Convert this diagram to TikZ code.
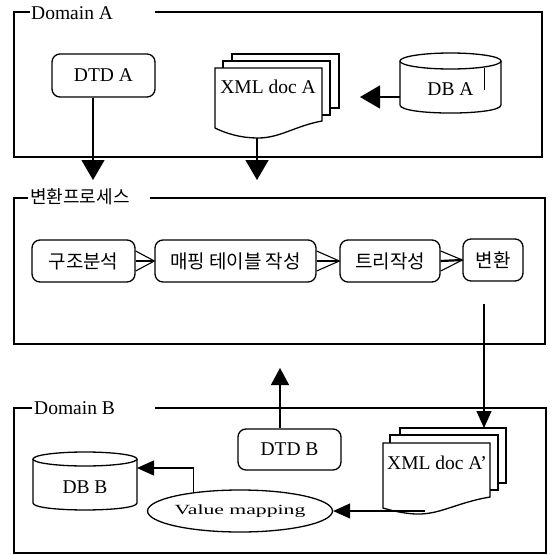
\documentclass[tikz,border=0pt]{standalone}
\usepackage{fontspec}
\setmainfont{Liberation Serif}
\newfontfamily\kr{Noto Sans CJK KR}
\usetikzlibrary{arrows.meta,calc,shapes.geometric}

\begin{document}
\begin{tikzpicture}[x=1pt,y=-1pt,
  frame/.style={line width=1.6pt},
  outline/.style={line width=1.3pt},
  rbox/.style={draw, line width=1.3pt, rounded corners=8pt, inner sep=0pt, align=center},
  big/.style={-{Triangle[length=20pt,width=23pt]}, line width=1.5pt},
  mid/.style={-{Triangle[length=17pt,width=18pt]}, line width=1.4pt},
  small/.style={-{Triangle[length=17pt,width=15pt]}, line width=1.2pt},
  lat/.style={font=\fontsize{19.5}{22}\selectfont},
  kor/.style={font=\kr\fontsize{19}{21}\selectfont},
  plain/.style={inner sep=0pt},
]
\useasboundingbox (0,0) rectangle (554,555);

% ---------------- Domain A ----------------
\draw[frame] (155,12) -- (542,12) -- (542,157) -- (14,157) -- (14,12) -- (30,12);
\node[lat, plain, anchor=west] (labA) at (31,13) {Domain A};

\node[rbox, lat, minimum width=103pt, minimum height=43pt] (dtda) at (103.5,75.5) {DTD A};

% stacked XML documents
\draw[outline, fill=white] (232,54) rectangle (339,108);
\draw[outline, fill=white] (223,61) rectangle (330,115);
\draw[outline, fill=white] (215,68) -- (322,68) -- (322,121)
  .. controls (295,126) and (280,138) .. (258,138)
  .. controls (240,138) and (225,133) .. (215,128) -- cycle;
\node[lat, plain] (xmla) at (268,87) {XML doc A};
\coordinate (xmlabot) at (257,138);
\coordinate (xmlaR) at (360,97);

% database A
\draw[outline] (450.5,61) ellipse[x radius=50.5pt, y radius=8pt];
\draw[outline] (400,61) -- (400,105) .. controls (400,115.7) and (501,115.7) .. (501,105) -- (501,61);
\draw[line width=1pt] (484,68) -- (484,90);
\node[lat, plain, minimum width=101pt, minimum height=48pt] (dba) at (450.5,89) {DB A};

\draw[big] (dba.west |- xmlaR) -- (xmlaR);

\coordinate (dtdatip) at (93,180);
\coordinate (xmlatip) at (257,180);
\draw[big] (dtda.south -| dtdatip) -- (dtdatip);
\draw[big] (xmlabot) -- (xmlatip);

% ---------------- transformation process ----------------
\draw[frame] (150,198) -- (545,198) -- (545,344) -- (14,344) -- (14,198) -- (28,198);
\node[plain, anchor=west, font=\kr\fontsize{18}{20}\selectfont] (labP) at (30,197) {변환프로세스};

\node[rbox, kor, minimum width=103pt, minimum height=42pt] (s1) at (83.5,261) {구조분석};
\node[rbox, kor, minimum width=161pt, minimum height=42pt] (s2) at (235.5,261) {매핑 테이블 작성};
\node[rbox, kor, minimum width=100pt, minimum height=42pt] (s3) at (390,261) {트리작성};
\node[rbox, kor, minimum width=60pt, minimum height=42pt] (s4) at (493,260) {변환};

\foreach \a/\b in {s1/s2,s2/s3,s3/s4}{
  \draw[line width=2.2pt] (\a.east) -- (\b.west);
  \draw[line width=1.1pt] ($(\a.east)+(0,-10)$) -- (\b.west) -- ($(\a.east)+(0,10)$);
}

% ---------------- Domain B ----------------
\draw[frame] (155,408) -- (546,408) -- (546,553) -- (14,553) -- (14,408) -- (32,408);
\node[lat, plain, anchor=west] (labB) at (34,408) {Domain B};

\node[rbox, lat, minimum width=103pt, minimum height=41pt] (dtdb) at (289.5,449.5) {DTD B};
\coordinate (dtdbtip) at (280,368);
\draw[mid] (dtdb.north -| dtdbtip) -- (dtdbtip);

% stacked transformed documents
\draw[outline, fill=white] (400,428) rectangle (506,483);
\draw[outline, fill=white] (390,435) rectangle (498,490);
\draw[outline, fill=white] (383,443) -- (490,443) -- (490,497)
  .. controls (455,503) and (440,515) .. (415,514)
  .. controls (400,513) and (390,510) .. (383,508) -- cycle;
\node[lat, plain] (xmlb) at (437,463) {XML doc A’};
\coordinate (xmlbtop) at (484,428);
\coordinate (xmlbbot) at (425,511);

\draw[small, shorten <=22pt] (s4.south -| xmlbtop) -- (xmlbtop);

% value mapping
\node[draw, ellipse, line width=1.3pt, plain, minimum width=165pt, minimum height=42pt,
      font=\fontsize{14}{16}\selectfont] (vm) at (240,511) {\scalebox{1.55}[1]{Value mapping}};
\draw[small] (xmlbbot) -- (vm.east);

% database B
\draw[outline] (85,459) ellipse[x radius=52pt, y radius=7pt];
\draw[outline] (33,459) -- (33,503) .. controls (33,512.3) and (137,512.3) .. (137,503) -- (137,459);
\node[lat, plain] (dbb) at (85,487) {DB B};
\coordinate (dbbR) at (137,468);
\draw[small] (vm.158) |- (dbbR);

\end{tikzpicture}
\end{document}
